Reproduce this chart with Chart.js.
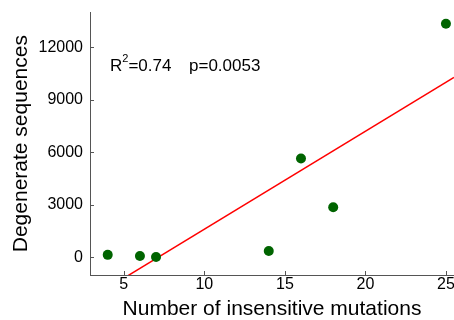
<!DOCTYPE html>
<html>
<head>
<meta charset="utf-8">
<script src="https://cdn.jsdelivr.net/npm/chart.js@4"></script>
<style>
  html, body { margin: 0; padding: 0; background: #fff; overflow: hidden; width: 454px; height: 320px; }
  canvas { display: block; }
</style>
</head>
<body>
<canvas id="c" width="454" height="320"></canvas>
<script>
// Data
const mutations = [4, 6, 7, 14, 16, 18, 25];          // x: number of insensitive mutations
const degenerate = [150, 85, 30, 370, 5650, 2870, 13350]; // y: degenerate sequences
const xTicks = [5, 10, 15, 20, 25];
const yTicks = [0, 3000, 6000, 9000, 12000];
const xLabel = 'Number of insensitive mutations';
const yLabel = 'Degenerate sequences';
const r2Text = '0.74';
const pText = 'p=0.0053';

const FONT = "'Liberation Sans', Arial, sans-serif";
const AXIS = '#555555';
const xMin = 2.9, xMax = 25.5, yMin = -1000, yMax = 14000;

// least-squares fit of the data (the red regression line)
const n = mutations.length;
const mx = mutations.reduce((a, b) => a + b, 0) / n;
const my = degenerate.reduce((a, b) => a + b, 0) / n;
let sxy = 0, sxx = 0;
for (let i = 0; i < n; i++) { sxy += (mutations[i] - mx) * (degenerate[i] - my); sxx += (mutations[i] - mx) ** 2; }
const slope = sxy / sxx, intercept = my - slope * mx;
const fitLine = [xMin, xMax].map(x => ({ x, y: intercept + slope * x }));

const points = mutations.map((x, i) => ({ x, y: degenerate[i] }));

const inwardTicks = {
  id: 'inwardTicks',
  afterDatasetsDraw(chart) {
    const { ctx, chartArea, scales } = chart;
    ctx.save();
    ctx.strokeStyle = AXIS;
    ctx.lineWidth = 1;
    ctx.beginPath();
    xTicks.forEach(v => {
      const px = Math.round(scales.x.getPixelForValue(v)) + 0.5;
      ctx.moveTo(px, chartArea.bottom);
      ctx.lineTo(px, chartArea.bottom - 4);
    });
    yTicks.forEach(v => {
      const py = Math.round(scales.y.getPixelForValue(v)) + 0.5;
      ctx.moveTo(chartArea.left, py);
      ctx.lineTo(chartArea.left + 4, py);
    });
    ctx.stroke();

    // annotation text
    ctx.fillStyle = '#000';
    ctx.textBaseline = 'alphabetic';
    ctx.textAlign = 'left';
    const bx = chartArea.left + 20, by = chartArea.top + 58.7;
    ctx.font = '17px ' + FONT;
    ctx.fillText('R', bx, by);
    const rw = ctx.measureText('R').width;
    ctx.font = '11px ' + FONT;
    ctx.fillText('2', bx + rw, by - 9);
    const sw = ctx.measureText('2').width;
    ctx.font = '17px ' + FONT;
    ctx.fillText('=' + r2Text, bx + rw + sw, by);
    ctx.fillText(pText, chartArea.left + 99, by);
    ctx.restore();
  }
};

new Chart(document.getElementById('c'), {
  type: 'scatter',
  data: {
    datasets: [
      {
        type: 'line',
        data: fitLine,
        borderColor: '#ff0000',
        borderWidth: 1.5,
        pointRadius: 0,
        fill: false,
        order: 2
      },
      {
        data: points,
        backgroundColor: '#006400',
        borderColor: '#006400',
        pointRadius: 5,
        pointHoverRadius: 5,
        borderWidth: 0,
        order: 1
      }
    ]
  },
  options: {
    responsive: false,
    animation: false,
    events: [],
    layout: { autoPadding: false, padding: { top: 12.3, left: 0, right: 0, bottom: 0 } },
    plugins: { legend: { display: false }, tooltip: { enabled: false } },
    scales: {
      x: {
        type: 'linear',
        min: xMin, max: xMax,
        afterBuildTicks: s => { s.ticks = xTicks.map(v => ({ value: v })); },
        afterFit: s => { s.height = 45; s.paddingLeft = 0; s.paddingRight = 0; },
        grid: { display: true, drawOnChartArea: false, drawTicks: false },
        border: { display: true, color: AXIS, width: 1 },
        ticks: { color: '#000', padding: 0, font: { family: FONT, size: 16 }, maxRotation: 0, autoSkip: false },
        title: { display: true, text: xLabel, color: '#000', font: { family: FONT, size: 21, lineHeight: 1 }, padding: { top: 0, bottom: 0 } }
      },
      y: {
        type: 'linear',
        min: yMin, max: yMax,
        afterBuildTicks: s => { s.ticks = yTicks.map(v => ({ value: v })); },
        afterFit: s => { s.width = 90; s.paddingTop = 0; s.paddingBottom = 0; },
        grid: { display: true, drawOnChartArea: false, drawTicks: false },
        border: { display: true, color: AXIS, width: 1 },
        ticks: { color: '#000', padding: 7, font: { family: FONT, size: 16 }, autoSkip: false, callback: v => String(v) },
        title: { display: true, text: yLabel, color: '#000', font: { family: FONT, size: 21, lineHeight: 1 }, padding: { top: 10.5, bottom: 0 } }
      }
    }
  },
  plugins: [inwardTicks]
});
</script>
</body>
</html>
